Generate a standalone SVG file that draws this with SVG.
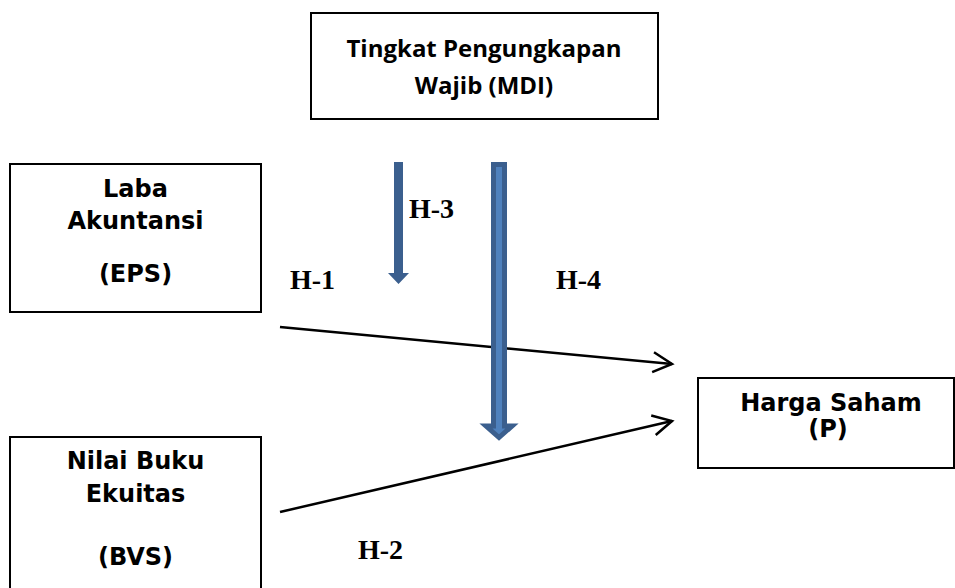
<svg xmlns="http://www.w3.org/2000/svg" width="955" height="588" viewBox="0 0 955 588">
<style>
.box{fill:#fff;stroke:#000;stroke-width:2}
.t1{font-family:"Open Sans","Liberation Sans",sans-serif;font-weight:bold;font-size:24px;text-anchor:middle;fill:#000}
.t2{font-family:"DejaVu Sans","Liberation Sans",sans-serif;font-weight:bold;font-size:24px;text-anchor:middle;fill:#000}
.h{font-family:"Liberation Serif","Times New Roman",serif;font-weight:bold;font-size:28px;fill:#000}
.ln{stroke:#000;stroke-width:2.5;fill:none}
</style>
<defs>
<marker id="chev" markerUnits="userSpaceOnUse" markerWidth="30" markerHeight="30" viewBox="-22 -15 26 30" refX="0" refY="0" orient="auto">
<path d="M-19,-10 L0,0 L-19,10" fill="none" stroke="#000" stroke-width="2.5"/>
</marker>
</defs>
<g id="node-mdi">
<rect class="box" x="311" y="13" width="347" height="106"/>
<text class="t1" x="484" y="57">Tingkat Pengungkapan</text>
<text class="t1" x="484" y="94">Wajib (MDI)</text>
</g>
<g id="node-eps">
<rect class="box" x="10" y="164" width="251" height="148"/>
<text class="t2" x="135.5" y="197">Laba</text>
<text class="t2" x="135.5" y="229">Akuntansi</text>
<text class="t2" x="135.5" y="282">(EPS)</text>
</g>
<g id="node-bvs">
<rect class="box" x="10" y="437" width="251" height="160"/>
<text class="t2" x="135.5" y="469">Nilai Buku</text>
<text class="t2" x="135.5" y="502">Ekuitas</text>
<text class="t2" x="135.5" y="565">(BVS)</text>
</g>
<g id="node-p">
<rect class="box" x="698" y="378" width="256" height="90"/>
<text class="t2" x="831" y="411">Harga Saham</text>
<text class="t2" x="828" y="437">(P)</text>
</g>
<g id="connectors">
<line class="ln" x1="280" y1="327" x2="672" y2="364" marker-end="url(#chev)"/>
<line class="ln" x1="280" y1="512" x2="672" y2="421" marker-end="url(#chev)"/>
<polygon points="394,162 403,162 403,273 409,273 398.5,284 388,273 394,273" fill="#3B5F8E"/>
<polygon points="493.5,164.5 504.5,164.5 504.5,426 512,426 499,437.5 486,426 493.5,426" fill="#4F81BD" stroke="#3B5F8E" stroke-width="5"/>
<text class="h" x="409" y="218">H-3</text>
<text class="h" x="290" y="289">H-1</text>
<text class="h" x="556" y="289">H-4</text>
<text class="h" x="358" y="559">H-2</text>
</g>
</svg>
